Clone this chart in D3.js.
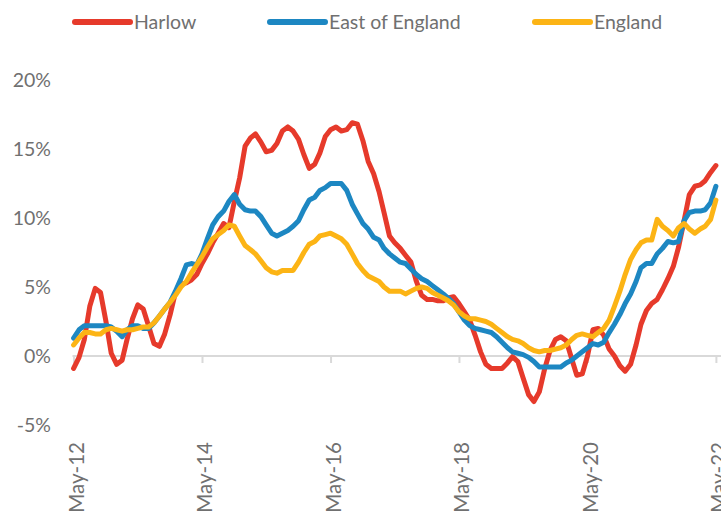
<!DOCTYPE html>
<html>
<head>
<meta charset="utf-8">
<script src="https://cdn.jsdelivr.net/npm/d3@7"></script>
<style>
  html, body { margin: 0; padding: 0; background: #fff; }
  svg { display: block; }
  text { font-family: Lato, "Open Sans", sans-serif; fill: #707070; }
</style>
</head>
<body>
<svg id="chart" width="721" height="513"></svg>
<script>
// Monthly categories, May 2012 to May 2022
const startMonth = new Date(2012, 4, 1);
const endMonth = new Date(2022, 5, 1);
const months = d3.timeMonth.range(startMonth, endMonth);
const tickLabels = ["May-12", "May-14", "May-16", "May-18", "May-20", "May-22"];
const yTicks = [-5, 0, 5, 10, 15, 20];

const seriesNames = ["Harlow", "East of England", "England"];
const seriesColors = ["#e63a2b", "#1d87c2", "#fcb415"];

const harlow = [
  -0.9, -0.1, 1.2, 3.6, 4.9, 4.6, 2.5, 0.2, -0.6, -0.3,
  1.2, 2.7, 3.7, 3.4, 2.2, 0.9, 0.7, 1.6, 3.0, 4.6,
  5.2, 5.3, 5.5, 5.9, 6.7, 7.4, 8.2, 8.9, 9.6, 9.3,
  11.2, 12.9, 15.2, 15.8, 16.1, 15.5, 14.8, 14.9, 15.4, 16.3,
  16.6, 16.3, 15.7, 14.6, 13.6, 13.9, 14.7, 15.9, 16.4, 16.6,
  16.3, 16.4, 16.9, 16.8, 15.6, 14.1, 13.2, 11.9, 10.4, 8.7,
  8.2, 7.8, 7.3, 6.8, 5.4, 4.4, 4.1, 4.1, 4.0, 4.0,
  4.2, 4.3, 3.8, 3.2, 2.6, 1.5, 0.3, -0.6, -0.9, -0.9,
  -0.9, -0.5, -0.05, -0.4, -1.6, -2.8, -3.3, -2.6, -0.9, 0.4,
  1.2, 1.4, 1.1, -0.2, -1.4, -1.3, 0.0, 1.9, 2.0, 1.5,
  0.5, 0.0, -0.7, -1.1, -0.6, 0.8, 2.3, 3.3, 3.8, 4.1,
  4.8, 5.6, 6.5, 7.9, 9.8, 11.7, 12.3, 12.4, 12.7, 13.3,
  13.8
];
const eastOfEngland = [
  1.3, 1.9, 2.2, 2.2, 2.2, 2.2, 2.2, 2.1, 1.8, 1.4,
  1.9, 2.2, 2.2, 2.0, 2.0, 2.4, 2.9, 3.4, 3.9, 4.7,
  5.6, 6.6, 6.7, 6.6, 7.4, 8.5, 9.5, 10.1, 10.5, 11.2,
  11.7, 11.0, 10.6, 10.5, 10.5, 10.1, 9.5, 8.9, 8.7, 8.9,
  9.1, 9.4, 9.8, 10.6, 11.3, 11.5, 12.0, 12.2, 12.5, 12.5,
  12.5, 12.0, 11.0, 10.3, 9.6, 9.2, 8.6, 8.4, 7.8, 7.4,
  7.1, 6.8, 6.7, 6.3, 5.9, 5.6, 5.4, 5.1, 4.8, 4.5,
  4.2, 3.8, 3.2, 2.6, 2.2, 2.0, 1.9, 1.8, 1.7, 1.4,
  1.0, 0.6, 0.3, 0.2, 0.1, -0.1, -0.4, -0.8, -0.8, -0.8,
  -0.8, -0.8, -0.5, -0.3, 0.0, 0.3, 0.6, 0.9, 0.8, 1.0,
  1.7, 2.3, 3.0, 3.8, 4.5, 5.4, 6.4, 6.7, 6.7, 7.4,
  7.8, 8.3, 8.2, 8.3, 9.8, 10.4, 10.5, 10.5, 10.6, 11.1,
  12.3
];
const england = [
  0.8, 1.3, 1.7, 1.7, 1.6, 1.6, 1.9, 2.0, 1.9, 1.8,
  1.9, 1.9, 2.0, 2.1, 2.1, 2.4, 2.9, 3.4, 3.9, 4.4,
  5.0, 5.4, 6.0, 6.6, 7.2, 7.9, 8.5, 8.8, 9.1, 9.5,
  9.4, 8.7, 8.0, 7.7, 7.4, 6.9, 6.4, 6.1, 6.0, 6.2,
  6.2, 6.2, 6.8, 7.5, 8.1, 8.3, 8.7, 8.8, 8.9, 8.7,
  8.5, 8.1, 7.4, 6.7, 6.2, 5.8, 5.6, 5.4, 5.0, 4.7,
  4.7, 4.7, 4.5, 4.7, 4.9, 5.0, 4.9, 4.6, 4.4, 4.2,
  4.0, 3.7, 3.2, 2.9, 2.7, 2.7, 2.6, 2.5, 2.3, 2.0,
  1.7, 1.4, 1.2, 1.1, 0.9, 0.6, 0.4, 0.3, 0.4, 0.4,
  0.5, 0.6, 0.8, 1.2, 1.5, 1.6, 1.5, 1.4, 1.7, 2.0,
  2.6, 3.6, 4.7, 5.9, 7.0, 7.7, 8.2, 8.4, 8.4, 9.9,
  9.4, 9.1, 8.7, 9.3, 9.6, 9.2, 8.9, 9.2, 9.4, 9.9,
  11.3
];
const seriesValues = [harlow, eastOfEngland, england];

const svg = d3.select("#chart");
const fmt = d3.timeFormat("%b-%y");

const x = d3.scaleTime()
  .domain([months[0], months[months.length - 1]])
  .range([73.6, 715.9]);
const y = d3.scaleLinear().domain([-5, 20]).range([425, 80]);

// Y axis labels (no axis line)
const yAxis = d3.axisLeft(y).tickValues(yTicks).tickSize(0).tickPadding(0)
  .tickFormat(d => d + "%");
const gy = svg.append("g").attr("transform", "translate(51,0)").call(yAxis);
gy.select(".domain").remove();
gy.selectAll("text").style("font-size", "19.5px").attr("fill", "#707070")
  .style("font-family", "Lato, 'Open Sans', sans-serif");

// X axis at 0%
const tickDates = months.filter(d => tickLabels.includes(fmt(d)));
const xAxis = d3.axisBottom(x).tickValues(tickDates).tickSize(7).tickSizeOuter(0)
  .tickFormat(d => fmt(d));
const gx = svg.append("g").attr("transform", `translate(0,${y(0)})`).call(xAxis);
gx.select(".domain").attr("d", `M72.5,0H721`).attr("stroke", "#d9d9d9").attr("stroke-width", 2);
gx.selectAll(".tick line").attr("stroke", "#d9d9d9").attr("stroke-width", 2);
gx.selectAll(".tick text")
  .style("font-size", "20.5px")
  .style("font-family", "Lato, 'Open Sans', sans-serif")
  .attr("fill", "#707070")
  .attr("text-anchor", "end")
  .attr("dy", null)
  .attr("y", 0)
  .attr("transform", `translate(10,${442 - y(0)}) rotate(-90)`);

// Lines (first series drawn first, last on top)
const line = d3.line()
  .x((d, i) => x(months[i]))
  .y(d => y(d))
  .curve(d3.curveLinear);

seriesValues.forEach((vals, k) => {
  svg.append("path")
    .datum(vals)
    .attr("fill", "none")
    .attr("stroke", seriesColors[k])
    .attr("stroke-width", 5)
    .attr("stroke-linejoin", "round")
    .attr("stroke-linecap", "round")
    .attr("d", line);
});

// Legend
const legendX = [75, 270, 535];
const legend = svg.append("g");
seriesNames.forEach((name, k) => {
  legend.append("line")
    .attr("x1", legendX[k]).attr("x2", legendX[k] + 55)
    .attr("y1", 22).attr("y2", 22)
    .attr("stroke", seriesColors[k]).attr("stroke-width", 6)
    .attr("stroke-linecap", "round");
  legend.append("text")
    .attr("x", legendX[k] + 59).attr("y", 29)
    .style("font-size", "19.5px")
    .text(name);
});
</script>
</body>
</html>
